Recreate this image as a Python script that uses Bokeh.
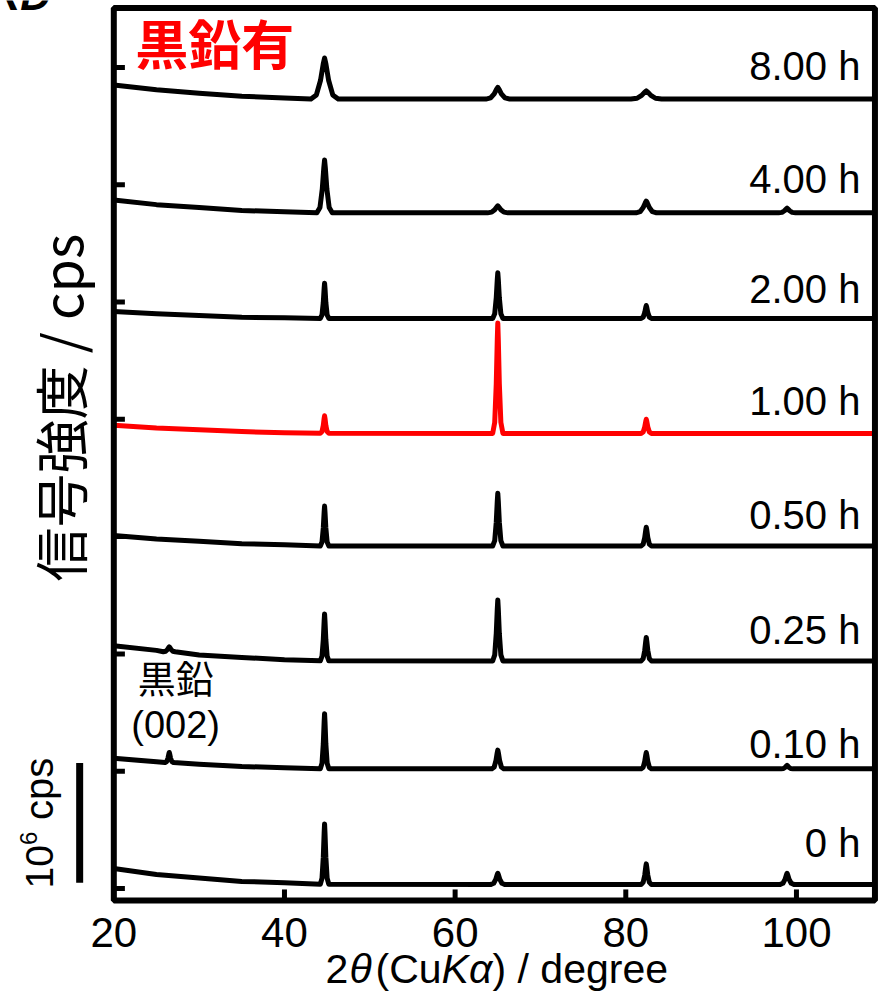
from math import pi
import numpy as np
from bokeh.plotting import figure
from bokeh.models import Label, Range1d
from bokeh.core.properties import value
from bokeh.embed import file_html
from bokeh.resources import INLINE

# ---- data (intensity in 10^6 cps, relative to each stack offset) ----
labels = ["0 h", "0.10 h", "0.25 h", "0.50 h", "1.00 h", "2.00 h", "4.00 h", "8.00 h"]
offsets = [0, 1, 2, 3, 4, 5, 6, 7]
colors = ["black", "black", "black", "black", "red", "black", "black", "black"]

bg_tth = [20, 25, 30, 35, 40, 45, 109.2]
bg_0h = [0.17, 0.12, 0.09, 0.06, 0.05, 0.035, 0.035]
bg_010h = [0.11, 0.08, 0.06, 0.04, 0.03, 0.02, 0.02]
bg_025h = [0.07, 0.03, -0.01, -0.03, -0.05, -0.06, -0.06]
bg_050h = [0.01, -0.02, -0.04, -0.06, -0.07, -0.08, -0.08]
bg_100h = [-0.05, -0.075, -0.09, -0.105, -0.115, -0.12, -0.12]
bg_200h = [-0.08, -0.10, -0.115, -0.13, -0.135, -0.14, -0.14]
bg_400h = [-0.13, -0.17, -0.195, -0.22, -0.23, -0.24, -0.24]
bg_800h = [-0.15, -0.19, -0.22, -0.245, -0.26, -0.27, -0.27]

peak_tth = [26.5, 44.7, 65.0, 82.4, 98.9]
pk_0h = [None, 0.55, 0.13, 0.21, 0.13]
pk_010h = [0.16, 0.49, 0.18, 0.16, 0.05]
pk_025h = [0.06, 0.34, 0.46, 0.14, None]
pk_050h = [None, 0.26, 0.37, 0.08, None]
pk_100h = [None, 0.03, 0.82, 0.00, None]
pk_200h = [None, 0.16, 0.25, -0.03, None]
pk_400h = [None, 0.21, -0.18, -0.14, -0.20]
pk_800h = [None, 0.08, -0.17, -0.20, None]

# peak half-widths at the foot (degrees)
hw_0h = [0, 0.5, 0.8, 0.6, 0.8]
hw_010h = [0.5, 0.5, 0.7, 0.6, 0.7]
hw_025h = [0.7, 0.5, 0.6, 0.6, 0]
hw_050h = [0, 0.5, 0.6, 0.6, 0]
hw_100h = [0, 0.5, 0.6, 0.6, 0]
hw_200h = [0, 0.5, 0.6, 0.6, 0]
hw_400h = [0, 0.9, 1.2, 1.2, 1.0]
hw_800h = [0, 1.6, 1.4, 1.8, 0]

x_ticks = [20, 40, 60, 80, 100]
x_tick_labels = ["20", "40", "60", "80", "100"]

bgs = [bg_0h, bg_010h, bg_025h, bg_050h, bg_100h, bg_200h, bg_400h, bg_800h]
pks = [pk_0h, pk_010h, pk_025h, pk_050h, pk_100h, pk_200h, pk_400h, pk_800h]
hws = [hw_0h, hw_010h, hw_025h, hw_050h, hw_100h, hw_200h, hw_400h, hw_800h]

# layout: vertical centre of each time label, relative to its offset
label_dy = [0.392, 0.236, 0.208, 0.184, 0.156, 0.111, 0.049, 0.012]
PEAK_SHAPE = [(-1, 0), (-0.6, 0.1), (-0.3, 0.45), (-0.1, 0.85), (0, 1),
              (0.1, 0.85), (0.3, 0.45), (0.6, 0.1), (1, 0)]


def trace(bg, pk, hw):
    windows = [(c - w, c + w) for c, top, w in zip(peak_tth, pk, hw) if top is not None]
    pts = [(a, b) for a, b in zip(bg_tth, bg)
           if not any(lo <= a <= hi for lo, hi in windows)]
    for c, top, w in zip(peak_tth, pk, hw):
        if top is None:
            continue
        base = float(np.interp(c, bg_tth, bg))
        pts += [(c + f * w, base + g * (top - base)) for f, g in PEAK_SHAPE]
    pts.sort()
    return [a for a, b in pts], [b for a, b in pts]


X0, X1 = 20, 109.2
Y0, Y1 = -0.102, 7.506
PX = 8.533  # pixels per degree, used only to place text pieces


def px_to_x(px):
    return 20 + (px - 113.3) / PX


p = figure(width=887, height=993, output_backend="svg", toolbar_location=None,
           x_range=Range1d(6.722, 110.67), y_range=Range1d(-0.8951, 7.5703),
           min_border_left=0, min_border_right=0, min_border_top=0,
           min_border_bottom=0)
p.background_fill_color = "white"
p.border_fill_color = "white"
p.outline_line_color = None
p.grid.visible = False
p.xaxis.visible = False
p.yaxis.visible = False

# data curves
for i in range(8):
    xs, ys = trace(bgs[i], pks[i], hws[i])
    ys = [offsets[i] + v for v in ys]
    p.line(xs, ys, line_color=colors[i], line_width=5, line_join="round")

# frame box, inward ticks, tick labels
p.quad(left=[X0], right=[X1], bottom=[Y0], top=[Y1], fill_color=None,
       line_color="black", line_width=6)
p.segment(x0=[X0] * 8, x1=[X0 + 1.3] * 8, y0=offsets, y1=offsets,
          line_color="black", line_width=5)
p.segment(x0=x_ticks, x1=x_ticks, y0=[Y0] * 5, y1=[Y0 + 0.094] * 5,
          line_color="black", line_width=5)
p.text(x=x_ticks, y=[-0.375] * 5, text=x_tick_labels, text_align="center",
       text_baseline="middle", text_font=value("Liberation Sans"),
       text_font_size="42px", text_color="black")

# x axis title: 2θ(CuKα) / degree  (θ, K, α italic)
xt_parts = [("2", 325, "normal"), ("θ", 349, "italic"), ("(Cu", 375, "normal"),
            ("K", 441, "italic"), ("α", 468.5, "italic"), (") / degree", 492, "normal")]
for txt, px, style in xt_parts:
    p.add_layout(Label(x=px_to_x(px), y=-0.682, text=txt, text_align="left",
                       text_baseline="middle", text_font="Liberation Sans",
                       text_font_style=style, text_font_size="41px",
                       text_color="black"))

for i in range(8):
    p.add_layout(Label(x=107.5, y=offsets[i] + label_dy[i], text=labels[i],
                       text_align="right", text_baseline="middle",
                       text_font="Liberation Sans", text_font_size="40px",
                       text_color="black"))

p.add_layout(Label(x=22.5, y=7.215, text="黒鉛有", text_align="left",
                   text_baseline="middle", text_font="Noto Sans CJK JP",
                   text_font_style="bold", text_font_size="53px", text_color="red"))
p.add_layout(Label(x=27.25, y=1.81, text="黒鉛", text_align="center",
                   text_baseline="middle", text_font="Noto Sans CJK JP",
                   text_font_size="38px", text_color="black"))
p.add_layout(Label(x=27.25, y=1.39, text="(002)", text_align="center",
                   text_baseline="middle", text_font="Liberation Sans",
                   text_font_size="38px", text_color="black"))

# panel heading, cut off at the top edge as in the source image
p.add_layout(Label(x=px_to_x(50), y=7.609, text="XRD", text_align="right",
                   text_baseline="middle", text_font="Liberation Sans",
                   text_font_style="bold italic", text_font_size="42px",
                   text_color="black"))

# scale bar: 10^6 cps
p.line([16.0, 16.0], [0.05, 1.07], line_color="black", line_width=7)
p.add_layout(Label(x=11.29, y=0.0, text="10", angle=pi / 2,
                   text_align="left", text_baseline="middle",
                   text_font="Liberation Sans", text_font_size="39px",
                   text_color="black"))
p.add_layout(Label(x=10.06, y=0.37, text="6", angle=pi / 2,
                   text_align="left", text_baseline="middle",
                   text_font="Liberation Sans", text_font_size="24px",
                   text_color="black"))
p.add_layout(Label(x=11.29, y=0.49, text="\u00a0cps", angle=pi / 2,
                   text_align="left", text_baseline="middle",
                   text_font="Liberation Sans", text_font_size="40px",
                   text_color="black"))

p.add_layout(Label(x=13.63, y=4.1, text="信号強度 / cps", angle=pi / 2,
                   text_align="center", text_baseline="middle",
                   text_font="Noto Sans CJK JP", text_font_size="54px",
                   text_color="black"))

open("out.html", "w").write(file_html(p, INLINE))
